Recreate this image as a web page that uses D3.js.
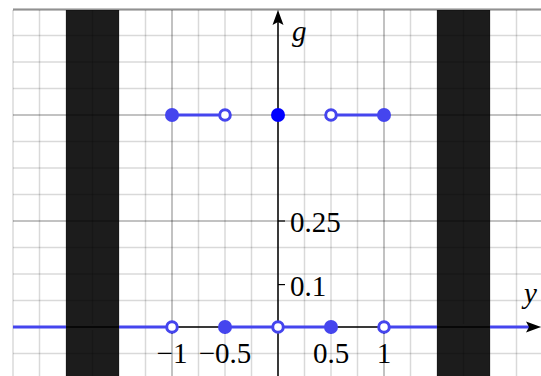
<!DOCTYPE html>
<html><head><meta charset="utf-8">
<script src="https://cdn.jsdelivr.net/npm/d3@7"></script>
<style>html,body{margin:0;padding:0;background:#fff;}svg{display:block;}</style>
</head><body>
<svg id="c" width="541" height="376"></svg>
<script>
// Data
const xDomain = [-2.5, 2.5];
const yDomain = [-0.125, 0.75];
const bands = [[-2, -1.5], [1.5, 2]];
const segments = [
  {x0: -2.5, x1: -1, g: 0},
  {x0: -0.5, x1: 0.5, g: 0},
  {x0: 1, x1: 2.5, g: 0},
  {x0: -1, x1: -0.5, g: 0.5},
  {x0: 0.5, x1: 1, g: 0.5}
];
const filledPts = [[-1, 0.5], [1, 0.5], [-0.5, 0], [0.5, 0]];
const centerPts = [[0, 0.5]];
const openPts = [[-0.5, 0.5], [0.5, 0.5], [-1, 0], [0, 0], [1, 0]];
const xTicks = [-1, -0.5, 0.5, 1];
const xTickLabels = ["\u22121", "\u22120.5", "0.5", "1"];
const yTicks = [0.25, 0.1];
const yTickLabels = ["0.25", "0.1"];

(function () {
const svg = d3.select("#c");
const x = d3.scaleLinear().domain(xDomain).range([13, 543]);
const y = d3.scaleLinear().domain(yDomain).range([380, 9]);
const T = 10, B = 376, L = 13, R = 541;

// bands
svg.selectAll("rect.band").data(bands).enter().append("rect")
  .attr("x", d => x(d[0])).attr("width", d => x(d[1]) - x(d[0]))
  .attr("y", T).attr("height", B - T).attr("fill", "#1c1c1c");

// grid
const vMinor = d3.range(-2.5, 2.51, 0.25);
const hMinor = d3.range(-0.125, 0.751, 0.0625);
const g = svg.append("g");
const minorC = "rgba(0,0,0,0.15)", majorC = "rgba(0,0,0,0.32)";
g.selectAll("line.vm").data(vMinor).enter().append("line")
  .attr("x1", d => x(d)).attr("x2", d => x(d)).attr("y1", T).attr("y2", B)
  .attr("stroke", d => (Math.abs(Math.abs(d) - 1) < 1e-9) ? majorC : minorC)
  .attr("stroke-width", 1.5);
g.selectAll("line.hm").data(hMinor).enter().append("line")
  .attr("y1", d => y(d)).attr("y2", d => y(d)).attr("x1", L).attr("x2", R)
  .attr("stroke", d => (Math.abs(d * 4 - Math.round(d * 4)) < 1e-9 && d > 0.1) ? majorC : minorC)
  .attr("stroke-width", 1.5);
g.append("line").attr("x1", L).attr("x2", R).attr("y1", T).attr("y2", T)
  .attr("stroke", "rgba(0,0,0,0.25)").attr("stroke-width", 2);

const blue = "#4545ee";
// x axis line (under the blue)
svg.append("line").attr("x1", L).attr("x2", 532).attr("y1", y(0)).attr("y2", y(0))
  .attr("stroke", "#000").attr("stroke-width", 1.5);

// segments
svg.selectAll("line.seg").data(segments).enter().append("line")
  .attr("x1", d => x(d.x0)).attr("x2", d => Math.min(x(d.x1), 530))
  .attr("y1", d => y(d.g)).attr("y2", d => y(d.g))
  .attr("stroke", blue).attr("stroke-width", 3);

// bands cover the blue baseline, axis stays visible
svg.selectAll("rect.band2").data(bands).enter().append("rect")
  .attr("x", d => x(d[0])).attr("width", d => x(d[1]) - x(d[0]))
  .attr("y", y(0) - 3).attr("height", 6).attr("fill", "#1c1c1c");
svg.selectAll("line.band3").data(bands).enter().append("line")
  .attr("x1", d => x(d[0])).attr("x2", d => x(d[1]))
  .attr("y1", y(0)).attr("y2", y(0)).attr("stroke", "#000").attr("stroke-width", 1.5);

// y axis
svg.append("line").attr("x1", x(0)).attr("x2", x(0)).attr("y1", 22).attr("y2", B)
  .attr("stroke", "#000").attr("stroke-width", 1.5);
svg.append("path").attr("d", `M541,${y(0)} L526,${y(0) - 5.5} L529,${y(0)} L526,${y(0) + 5.5} Z`).attr("fill", "#000");
svg.append("path").attr("d", `M${x(0)},10 L${x(0) - 5.5},25 L${x(0)},22 L${x(0) + 5.5},25 Z`).attr("fill", "#000");

// ticks
svg.selectAll("line.xt").data(xTicks).enter().append("line")
  .attr("x1", d => x(d)).attr("x2", d => x(d)).attr("y1", y(0)).attr("y2", y(0) + 7)
  .attr("stroke", "#000").attr("stroke-width", 1.2);
svg.selectAll("line.yt").data(yTicks).enter().append("line")
  .attr("x1", x(0)).attr("x2", x(0) + 7).attr("y1", d => y(d)).attr("y2", d => y(d))
  .attr("stroke", "#000").attr("stroke-width", 1.2);

const font = "'Liberation Serif', 'Times New Roman', serif";
const fs = 29;
svg.selectAll("text.xl").data(xTicks).enter().append("text")
  .attr("x", d => x(d)).attr("y", 363).attr("text-anchor", "middle")
  .attr("font-family", font).attr("font-size", fs).text((d, i) => xTickLabels[i]);
svg.selectAll("text.yl").data(yTicks).enter().append("text")
  .attr("x", x(0) + 12).attr("y", d => y(d) + 11).attr("text-anchor", "start")
  .attr("font-family", font).attr("font-size", fs).text((d, i) => yTickLabels[i]);

svg.append("text").attr("x", 292).attr("y", 41).attr("font-family", font).attr("font-style", "italic").attr("font-size", fs).text("g");
svg.append("text").attr("x", 524).attr("y", 303).attr("font-family", font).attr("font-style", "italic").attr("font-size", fs).text("y");

// points
svg.selectAll("circle.f").data(filledPts).enter().append("circle")
  .attr("cx", d => x(d[0])).attr("cy", d => y(d[1])).attr("r", 7).attr("fill", blue);
svg.selectAll("circle.c").data(centerPts).enter().append("circle")
  .attr("cx", d => x(d[0])).attr("cy", d => y(d[1])).attr("r", 7).attr("fill", "#0000ff");
svg.selectAll("circle.o").data(openPts).enter().append("circle")
  .attr("cx", d => x(d[0])).attr("cy", d => y(d[1])).attr("r", 5.3).attr("fill", "#fff")
  .attr("stroke", blue).attr("stroke-width", 3);
})();
</script>
</body></html>
